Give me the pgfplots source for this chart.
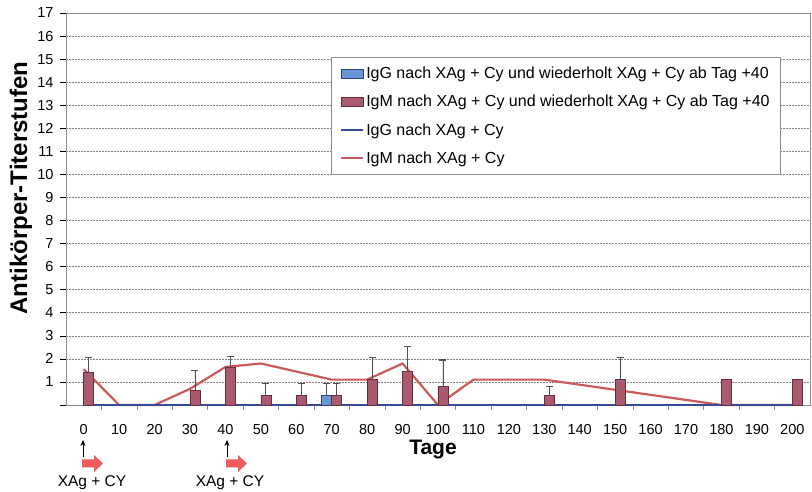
\documentclass[border=0pt]{standalone}
\usepackage{fontspec}
\setmainfont{Liberation Sans}
\usepackage{pgfplots}
\usepackage{pgfplotstable}
\pgfplotsset{compat=1.18}
\usetikzlibrary{arrows.meta}

\definecolor{igmbar}{RGB}{170,90,110}
\definecolor{igmbaredge}{RGB}{105,45,60}
\definecolor{iggbar}{RGB}{105,150,215}
\definecolor{iggbaredge}{RGB}{45,65,120}
\definecolor{igmline}{RGB}{205,90,90}
\definecolor{iggline}{RGB}{55,75,150}
\definecolor{arrowred}{RGB}{238,92,92}
\definecolor{framegray}{RGB}{140,140,140}
\definecolor{errgray}{RGB}{80,80,80}

% IgM titres after XAg + Cy, repeated from day +40 (mean and upper error)
\pgfplotstableread{
day igm err
0   1.4  0.65
30  0.65 0.85
40  1.65 0.45
50  0.4  0.55
60  0.4  0.55
70  0.4  0.55
80  1.1  0.95
90  1.45 1.1
100 0.8  1.15
130 0.4  0.4
150 1.1  0.95
}\igmbars

\pgfplotstableread{
day igm
180 1.1
200 1.1
}\igmbarsnoerr

% IgG titres after XAg + Cy, repeated from day +40
\pgfplotstableread{
day igg err
70  0.4  0.55
}\iggbars

% IgM titres after XAg + Cy
\pgfplotstableread{
day igm
0   1.55
10  0
20  0
30  0.7
40  1.65
50  1.8
70  1.1
80  1.1
90  1.8
100 0
110 1.1
130 1.1
180 0
190 0
200 0
}\igmline

% IgG titres after XAg + Cy
\pgfplotstableread{
day igg
0   0
10  0
20  0
30  0
40  0
50  0
60  0
70  0
80  0
90  0
100 0
110 0
120 0
130 0
140 0
150 0
160 0
170 0
180 0
190 0
200 0
}\iggline

% half a bar width (5pt) expressed in days
\def\off{1.41}

\pgfplotsset{
  titrebar/.style={ybar, bar width=10pt, bar shift=0pt, line width=0.6pt},
  titreerr/.style={
    error bars/.cd, y dir=plus, y explicit,
    error mark=|,
    error bar style={errgray, line width=0.9pt, solid},
    error mark options={errgray, line width=1.1pt, mark size=3.5pt, solid}},
}

\begin{document}
\begin{tikzpicture}[x=1pt,y=1pt]
\useasboundingbox (0,0) rectangle (812,492);
\begin{axis}[
  at={(66pt,87pt)}, anchor=south west,
  scale only axis, width=744pt, height=392pt,
  xmin=-5, xmax=205, ymin=0, ymax=17,
  clip=false,
  axis line style={framegray, line width=0.8pt},
  xtick={0,10,...,200},
  minor xtick={5,15,...,195},
  ytick={0,1,...,17},
  yticklabels={,1,2,3,4,5,6,7,8,9,10,11,12,13,14,15,16,17},
  tick align=outside,
  xtick pos=bottom, ytick pos=left,
  major tick length=6pt, minor tick length=5pt,
  x tick style={draw=none},
  minor x tick style={draw=framegray, line width=0.6pt},
  y tick style={draw=black, line width=0.6pt},
  ymajorgrids,
  major grid style={gray, line width=0.6pt, dash pattern=on 1.5pt off 1.5pt},
  /pgf/number format/assume math mode=true,
  tick label style={font=\fontsize{14.5}{16}\selectfont},
  xticklabel style={yshift=-10pt},
  yticklabel style={xshift=-3pt},
  legend style={
    at={(axis description cs:0.356,0.888)}, anchor=north west,
    draw=framegray, line width=0.8pt, fill=white,
    font=\fontsize{16}{18}\selectfont,
    inner xsep=9pt, inner ysep=8pt, row sep=11pt,
    nodes={inner sep=2pt},
  },
  legend cell align=left,
]
% lines drawn first, bars over them
\addplot[forget plot, igmline, line width=2.2pt] table[x=day, y=igm] {\igmline};
\addplot[forget plot, iggline, line width=2.2pt] table[x=day, y=igg] {\iggline};

\addplot[forget plot, titrebar, fill=iggbar, draw=iggbaredge, titreerr]
  table[x expr=\thisrow{day}-\off, y=igg, y error=err] {\iggbars};
\addplot[forget plot, titrebar, fill=igmbar, draw=igmbaredge, titreerr]
  table[x expr=\thisrow{day}+\off, y=igm, y error=err] {\igmbars};
\addplot[forget plot, titrebar, fill=igmbar, draw=igmbaredge]
  table[x expr=\thisrow{day}+\off, y=igm] {\igmbarsnoerr};

\addlegendimage{legend image code/.code={\draw[fill=iggbar, draw=iggbaredge, line width=0.6pt] (0pt,-4.5pt) rectangle (22pt,4.5pt);}}
\addlegendimage{legend image code/.code={\draw[fill=igmbar, draw=igmbaredge, line width=0.6pt] (0pt,-4.5pt) rectangle (22pt,4.5pt);}}
\addlegendimage{legend image code/.code={\draw[draw=iggline, line width=2pt] (0pt,0pt) -- (22pt,0pt);}}
\addlegendimage{legend image code/.code={\draw[draw=igmline, line width=2pt] (0pt,0pt) -- (22pt,0pt);}}
\legend{IgG nach XAg + Cy und wiederholt XAg + Cy ab Tag +40,
        IgM nach XAg + Cy und wiederholt XAg + Cy ab Tag +40,
        IgG nach XAg + Cy,
        IgM nach XAg + Cy}
\end{axis}

% axis titles
\node[rotate=90, font=\fontsize{24}{26}\selectfont\bfseries] at (21,304) {Antikörper-Titerstufen};
\node[font=\fontsize{21}{23}\selectfont\bfseries] at (433,42) {Tage};

% treatment markers below the axis
\foreach \xa/\xt in {83/92, 227/230} {
  \draw[-{Stealth[length=6pt,width=5pt]}, line width=0.8pt] (\xa,35) -- (\xa,52);
  \fill[arrowred] (\xa-1,24.5) -- (\xa+11,24.5) -- (\xa+11,20) -- (\xa+20,28.5)
     -- (\xa+11,37) -- (\xa+11,32.5) -- (\xa-1,32.5) -- cycle;
  \node[font=\fontsize{15.5}{17}\selectfont] at (\xt,9) {XAg + CY};
}
\end{tikzpicture}
\end{document}
